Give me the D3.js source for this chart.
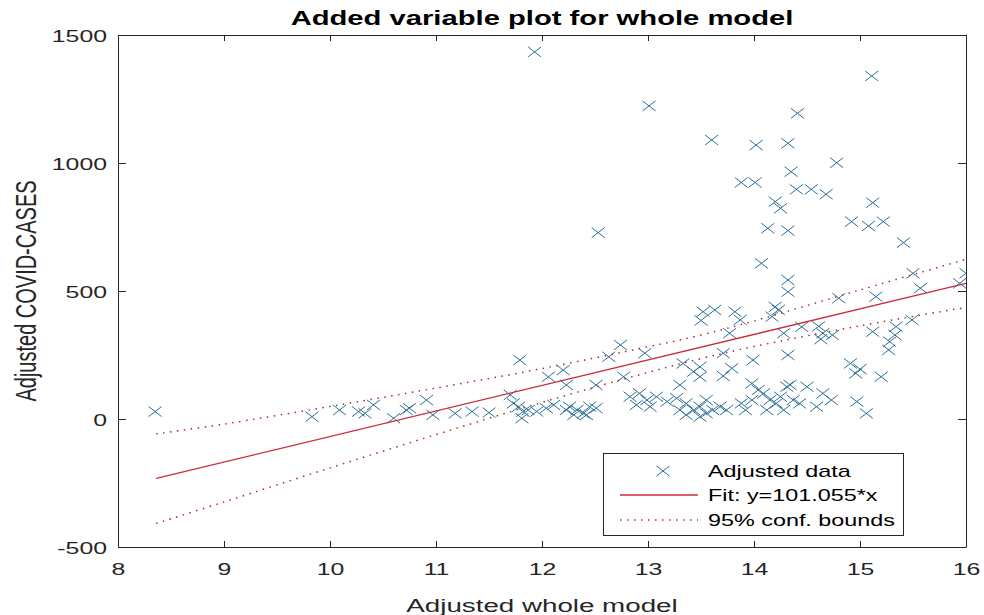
<!DOCTYPE html>
<html><head><meta charset="utf-8">
<script src="https://cdn.jsdelivr.net/npm/d3@7"></script>
<style>
html,body{margin:0;padding:0;background:#fff;}
svg{display:block;font-family:"Liberation Sans",Arial,Helvetica,sans-serif;}
</style></head>
<body><svg id="chart" width="984" height="615"></svg>
<script>
// ---- data ----
const xTicks = [8, 9, 10, 11, 12, 13, 14, 15, 16];
const yTicks = [-500, 0, 500, 1000, 1500];
const titleText = "Added variable plot for whole model";
const xLabelText = "Adjusted whole model";
const yLabelText = "Adjusted COVID-CASES";
const legendLabels = ["Adjusted data", "Fit: y=101.055*x", "95% conf. bounds"];

const adjustedData = [
  [11.93,1434],[13.01,1223],[12.53,728],[15.11,1340],[14.41,1194],[13.60,1090],[14.02,1070],[14.32,1077],
  [14.78,1001],[14.35,966],[13.88,924],[14.01,924],[14.40,897],[14.54,897],[14.68,878],[14.20,849],
  [14.25,823],[15.12,845],[14.92,771],[15.08,754],[15.22,771],[14.13,745],[14.32,736],[15.41,689],
  [14.07,608],[15.50,569],[16.00,569],[14.32,543],[14.32,497],[15.94,530],[15.57,511],[14.80,472],[15.15,478],
  [14.20,438],[14.23,426],[14.17,400],
  [13.52,419],[13.63,426],[13.50,385],[13.82,419],[13.87,387],
  [13.77,335],[14.61,362],[14.65,335],[14.74,328],[14.63,312],[14.28,335],[14.45,360],
  [15.12,341],[15.34,361],[15.33,328],[15.28,302],[15.27,270],[15.49,387],
  [13.71,257],[13.99,230],[14.32,250],
  [14.91,217],[14.96,178],[15.00,195],[15.20,165],
  [13.79,198],[13.71,168],[13.43,185],[13.49,165],[13.49,204],
  [13.36,61],[13.43,35],[13.49,48],[13.55,74],[13.61,35],[13.68,48],[13.74,35],[13.36,16],[13.49,9],[13.55,22],
  [13.88,61],[13.98,74],[13.92,35],
  [13.98,139],[14.04,113],[14.09,100],[14.15,74],[14.25,87],[14.31,126],[14.37,74],[14.43,61],[14.34,133],
  [14.50,126],[14.59,48],[14.73,74],[14.65,100],[14.97,68],[15.06,22],[14.12,35],[14.21,61],[14.28,35],
  [12.83,87],[12.92,100],[12.99,74],[13.08,87],[13.18,68],[13.27,81],[12.89,55],[13.02,48],[13.30,35],
  [13.30,133],[13.33,217],
  [12.74,289],[12.63,243],[12.97,257],[12.77,165],
  [11.79,230],[12.06,165],[12.20,191],[12.23,133],[12.51,133],
  [10.91,74],[10.75,42],[10.97,16],[11.18,22],[11.34,29],[11.50,25],
  [11.70,94],[11.73,61],[11.78,48],[11.82,29],[11.87,35],[11.81,3],[11.95,29],[12.04,42],[12.11,55],
  [12.26,48],[12.33,35],[12.39,22],[12.45,48],[12.30,16],[12.42,16],[12.51,42],[12.23,35],
  [8.35,29],[9.83,9],[10.09,35],[10.27,29],[10.33,22],[10.41,55],[10.60,3],[10.72,35]
];

const fitX = [8.36, 16];
const fitY = [-232, 530];

const boundX = [8.36, 9, 10, 11, 12, 13, 13.5, 14, 15, 16];
const upperY = [-58, -20, 49, 121, 197, 282, 328, 383, 504, 624];
const lowerY = [-408, -324, -191, -61, 65, 182, 236, 283, 364, 436];

// ---- layout ----
const SX = 1.46;           // horizontal stretch of the reference picture's glyphs
const plot = {left: 118, right: 966, top: 35, bottom: 547};
const axisColor = "#262626";
const markerColor = "#2a6f97";
const fitColor = "#cc2a3a";
const boundColor = "#a82c3a";

const svg = d3.select("#chart");
const x = d3.scaleLinear().domain([8, 16]).range([plot.left, plot.right]);
const y = d3.scaleLinear().domain([-500, 1500]).range([plot.bottom, plot.top]);

svg.append("clipPath").attr("id","clip").append("rect")
  .attr("x", plot.left).attr("y", plot.top)
  .attr("width", plot.right - plot.left).attr("height", plot.bottom - plot.top);

const g = svg.append("g").attr("clip-path","url(#clip)");

// markers
const hw = 6.5, hh = 5;
g.append("g").selectAll("path").data(adjustedData).join("path")
  .attr("d", d => {
    const cx = x(d[0]), cy = y(d[1]);
    return `M${cx-hw},${cy-hh}L${cx+hw},${cy+hh}M${cx-hw},${cy+hh}L${cx+hw},${cy-hh}`;
  })
  .attr("stroke", markerColor).attr("stroke-width", 1).attr("fill","none");

// fit line
const fitData = fitX.map((v,i)=>[v, fitY[i]]);
g.append("path").datum(fitData)
  .attr("d", d3.line().x(d=>x(d[0])).y(d=>y(d[1])))
  .attr("stroke", fitColor).attr("stroke-width", 1.3).attr("fill","none");

// confidence bounds
const bLine = d3.line().curve(d3.curveCatmullRom).x(d=>x(d[0])).y(d=>y(d[1]));
[upperY, lowerY].forEach(arr => {
  g.append("path").datum(boundX.map((v,i)=>[v, arr[i]]))
    .attr("d", bLine)
    .attr("stroke", boundColor).attr("stroke-width", 1.5)
    .attr("stroke-dasharray", "1.5,5.5").attr("fill","none");
});

// axes
const fmt = d => String(d);
function styleAxis(sel){
  sel.select(".domain").attr("stroke", axisColor).attr("stroke-width", 1);
  sel.selectAll(".tick line").attr("stroke", axisColor).attr("stroke-width", 1);
  sel.selectAll(".tick text").attr("fill", "#262626").style("font-size","17px")
     .style("font-family", '"Liberation Sans",Arial,sans-serif');
}
const xb = svg.append("g").attr("transform", `translate(0,${plot.bottom})`)
  .call(d3.axisBottom(x).tickValues(xTicks).tickFormat(fmt).tickSizeInner(-6).tickSizeOuter(0));
styleAxis(xb);
xb.selectAll(".tick text").attr("y", null).attr("dy", null)
  .attr("transform", `translate(0,28) scale(${SX},1)`);

const xt = svg.append("g").attr("transform", `translate(0,${plot.top})`)
  .call(d3.axisTop(x).tickValues(xTicks).tickFormat("").tickSizeInner(-6).tickSizeOuter(0));
styleAxis(xt);

const yl = svg.append("g").attr("transform", `translate(${plot.left},0)`)
  .call(d3.axisLeft(y).tickValues(yTicks).tickFormat(fmt).tickSizeInner(-8).tickSizeOuter(0));
styleAxis(yl);
yl.selectAll(".tick text").attr("x", null).attr("dy", "0.36em")
  .attr("transform", `translate(-11,0) scale(${SX},1)`);

const yr = svg.append("g").attr("transform", `translate(${plot.right},0)`)
  .call(d3.axisRight(y).tickValues(yTicks).tickFormat("").tickSizeInner(-8).tickSizeOuter(0));
styleAxis(yr);

// title and labels
svg.append("text").text(titleText)
  .attr("transform", `translate(${(plot.left+plot.right)/2},25) scale(${SX},1)`)
  .attr("text-anchor","middle").attr("font-weight","bold").attr("font-size", 20).attr("fill","#000");

svg.append("text").text(xLabelText)
  .attr("transform", `translate(${(plot.left+plot.right)/2},612) scale(${SX},1)`)
  .attr("text-anchor","middle").attr("font-size", 19).attr("fill","#262626");

svg.append("text").text(yLabelText)
  .attr("transform", `translate(36,${(plot.top+plot.bottom)/2}) scale(${SX},1) rotate(-90)`)
  .attr("text-anchor","middle").attr("font-size", 20).attr("fill","#262626");

// legend
const lg = svg.append("g");
lg.append("rect").attr("x", 603.5).attr("y", 453.5).attr("width", 300).attr("height", 82)
  .attr("fill","#fff").attr("stroke", axisColor).attr("stroke-width", 1);
const rowsY = [471, 495, 520];
lg.append("path")
  .attr("d", `M${663-hw},${rowsY[0]-hh}L${663+hw},${rowsY[0]+hh}M${663-hw},${rowsY[0]+hh}L${663+hw},${rowsY[0]-hh}`)
  .attr("stroke", markerColor).attr("stroke-width", 1).attr("fill","none");
lg.append("line").attr("x1", 620).attr("x2", 698).attr("y1", rowsY[1]).attr("y2", rowsY[1])
  .attr("stroke", fitColor).attr("stroke-width", 1.3);
lg.append("line").attr("x1", 620).attr("x2", 698).attr("y1", rowsY[2]).attr("y2", rowsY[2])
  .attr("stroke", boundColor).attr("stroke-width", 1.5).attr("stroke-dasharray","1.5,5.5");
legendLabels.forEach((t,i) => {
  lg.append("text").text(t)
    .attr("transform", `translate(708,${rowsY[i]+6}) scale(${SX},1)`)
    .attr("font-size", 16).attr("fill","#000");
});
</script>
</body></html>
